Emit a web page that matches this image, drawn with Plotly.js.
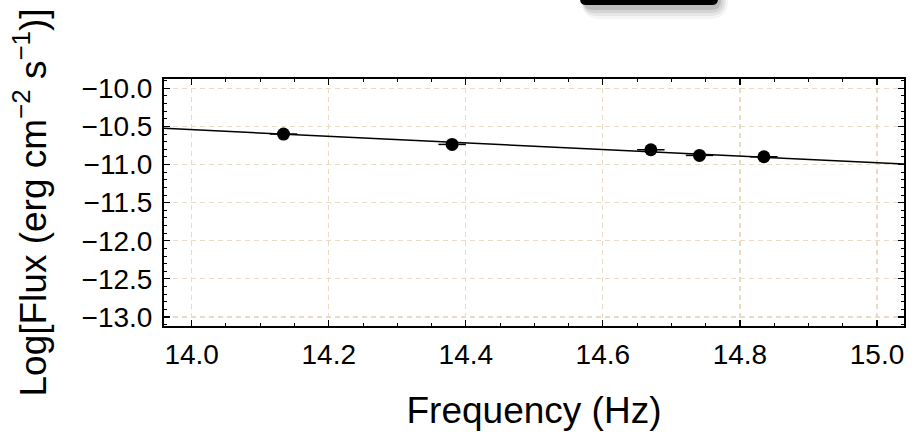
<!DOCTYPE html>
<html>
<head>
<meta charset="utf-8">
<script src="https://cdn.plot.ly/plotly-3.0.1.min.js"></script>
<style>html,body{margin:0;padding:0;background:#fff;}#chart{width:914px;height:434px;}</style>
</head>
<body>
<div id="chart"></div>
<script>
// Observed SED points
const freq = [14.134, 14.380, 14.670, 14.741, 14.835];
const logFlux = [-10.600, -10.736, -10.806, -10.880, -10.898];
const freqErr = [0.02, 0.02, 0.02, 0.02, 0.02];
// Power-law fit line
const fitFreq = [13.9596, 15.0394];
const fitFlux = [-10.525, -10.994];
// Axis ticks
const xTicks = [14.0, 14.2, 14.4, 14.6, 14.8, 15.0];
const yTicks = [-10.0, -10.5, -11.0, -11.5, -12.0, -12.5, -13.0];

const W = 914, H = 434;
const mL = 164, mR = 10, mT = 79, mB = 108;
const pw = W - mL - mR, ph = H - mT - mB;
const px = v => (v - mL) / pw;
const py = v => 1 + (mT - v) / ph;

function roundedBottomBox(x0, x1, yTop, yBot, r) {
  const rx = r / pw, ry = r / ph;
  const X0 = px(x0), X1 = px(x1), YT = py(yTop), YB = py(yBot);
  return `M${X0},${YT} L${X0},${YB + ry} Q${X0},${YB} ${X0 + rx},${YB} L${X1 - rx},${YB} Q${X1},${YB} ${X1},${YB + ry} L${X1},${YT} Z`;
}

const shapes = [];
// soft shadow
const shadowSteps = [[13, 0.04], [10, 0.06], [7, 0.08], [4, 0.11]];
shadowSteps.forEach(([s, a]) => {
  shapes.push({type: 'path', xref: 'paper', yref: 'paper',
    path: roundedBottomBox(584 - s * 0.2, 718 + s * 0.8, -20, 6 + s, 6 + s),
    fillcolor: `rgba(0,0,0,${a})`, line: {width: 0}});
});
shapes.push({type: 'path', xref: 'paper', yref: 'paper',
  path: roundedBottomBox(580, 718, -20, 5, 6),
  fillcolor: '#000', line: {width: 0}});

const font = 'Liberation Sans, Arial, Helvetica, sans-serif';
const gridColor = '#eadbc4';

const traces = [
  {x: fitFreq, y: fitFlux, mode: 'lines', type: 'scatter',
   line: {color: '#000', width: 1.5}, hoverinfo: 'skip', showlegend: false},
  {x: freq, y: logFlux, mode: 'markers', type: 'scatter',
   marker: {color: '#000', size: 13},
   error_x: {type: 'data', array: freqErr, visible: true, color: '#000', thickness: 1.5, width: 0},
   showlegend: false}
];

const axisCommon = {
  showline: true, linecolor: '#000', linewidth: 2, mirror: 'ticks',
  ticks: 'inside', ticklen: 6, tickwidth: 1.2, tickcolor: '#000',
  showgrid: true, gridcolor: gridColor, gridwidth: 1.2, griddash: '5px,4px',
  zeroline: false, tickfont: {family: font, size: 28, color: '#000'},
};

const layout = {
  width: W, height: H,
  margin: {l: mL, r: mR, t: mT, b: mB, pad: 0},
  paper_bgcolor: '#fff', plot_bgcolor: '#fff',
  showlegend: false,
  xaxis: Object.assign({}, axisCommon, {
    range: [13.9596, 15.0394], tickvals: xTicks, ticktext: xTicks.map(v => v.toFixed(1)),
    minor: {dtick: 0.05, tick0: 14.0, ticks: 'inside', ticklen: 3, tickcolor: '#000', tickwidth: 1, showgrid: false},
    title: {text: 'Frequency (Hz)', font: {family: font, size: 37, color: '#000'}, standoff: 29},
    ticklabelstandoff: 2
  }),
  yaxis: Object.assign({}, axisCommon, {
    range: [-13.118, -9.878], tickvals: yTicks, ticktext: yTicks.map(v => '\u2212' + Math.abs(v).toFixed(1)),
    minor: {dtick: 0.1, tick0: -13.0, ticks: 'inside', ticklen: 3, tickcolor: '#000', tickwidth: 1, showgrid: false},
    title: {text: 'Log[Flux (erg cm<sup>\u22122</sup> s<sup>\u22121</sup>)]', font: {family: font, size: 37, color: '#000'}, standoff: 24},
    ticklabelstandoff: 4
  }),
  shapes: shapes
};

Plotly.newPlot('chart', traces, layout, {displayModeBar: false, staticPlot: true});
</script>
</body>
</html>
